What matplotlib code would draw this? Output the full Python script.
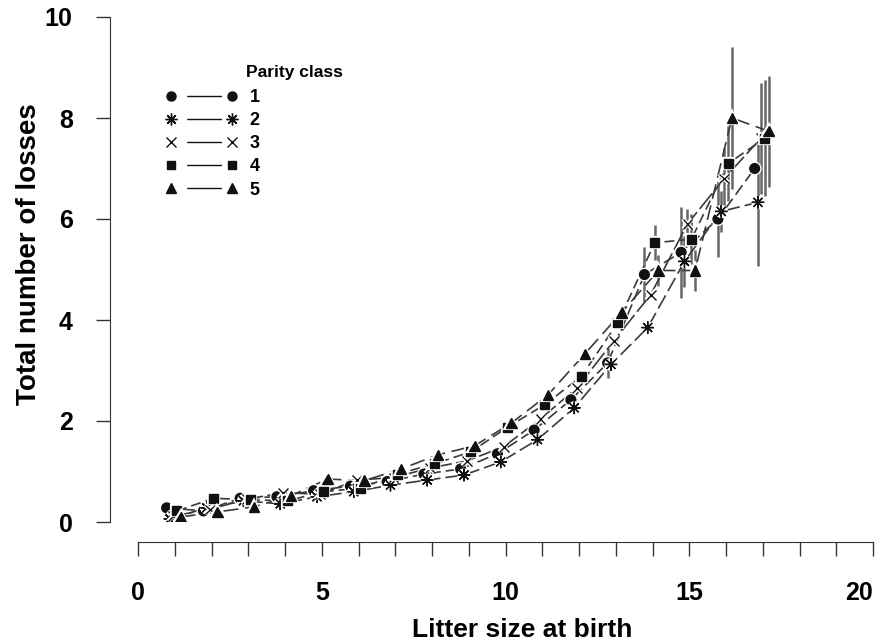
import numpy as np
import matplotlib
matplotlib.use("Agg")
import matplotlib.pyplot as plt
from matplotlib.lines import Line2D
import matplotlib.patheffects as pe

plt.rcParams['font.family'] = ['Liberation Sans', 'DejaVu Sans']

# litter size at birth and mean total losses per parity class
litter = np.arange(1, 18)
parity_labels = ['1', '2', '3', '4', '5']

losses_p1 = [0.28, 0.22, 0.47, 0.50, 0.62, 0.71, 0.80, 0.95, 1.05, 1.35, 1.82, 2.42, 3.15, 4.90, 5.34, 6.00, 7.00]
losses_p2 = [0.06, 0.28, 0.42, 0.36, 0.50, 0.60, 0.73, 0.83, 0.93, 1.19, 1.63, 2.26, 3.12, 3.85, 5.16, 6.15, 6.33]
losses_p3 = [0.12, 0.25, 0.45, 0.58, 0.55, 0.83, 0.88, 1.07, 1.21, 1.49, 2.04, 2.66, 3.59, 4.50, 5.90, 6.80, 7.60]
losses_p4 = [0.22, 0.47, 0.44, 0.42, 0.60, 0.67, 0.95, 1.15, 1.39, 1.88, 2.32, 2.88, 3.95, 5.53, 5.60, 7.10, 7.60]
losses_p5 = [0.10, 0.20, 0.30, 0.52, 0.85, 0.82, 1.05, 1.33, 1.51, 1.96, 2.52, 3.33, 4.15, 4.98, 4.98, 8.00, 7.74]

# standard errors (only the large litters have visible bars)
err_p1 = [0]*12 + [0.30, 0.55, 0.90, 0.75, 0.00]
err_p2 = [0]*12 + [0.00, 0.00, 0.50, 0.40, 1.27]
err_p3 = [0]*12 + [0.00, 0.00, 0.30, 0.60, 1.10]
err_p4 = [0]*12 + [0.00, 0.35, 0.50, 0.75, 1.15]
err_p5 = [0]*12 + [0.00, 0.30, 0.40, 1.40, 1.10]

series = [losses_p1, losses_p2, losses_p3, losses_p4, losses_p5]
errors = [err_p1, err_p2, err_p3, err_p4, err_p5]

# drawing styles
dodge = [-0.22, -0.13, -0.05, 0.06, 0.16]
markers = ['o', (8, 2, 0), 'x', 's', '^']
msizes = [7, 9, 7, 6.5, 7.5]
dashes = [(7, 3), (9, 3), (12, 2.5), (6, 3), (9, 4)]
ink = '#111111'

fig = plt.figure(figsize=(8.76, 6.44), dpi=100)
ax = fig.add_axes([138/876, 1 - 522/644, (873 - 138)/876, (522 - 17)/644])

halo = [pe.withStroke(linewidth=3, foreground='white')]
for k in range(5):
    xs = litter + dodge[k]
    ax.errorbar(xs, series[k], yerr=errors[k], fmt='none', ecolor='#666666',
                elinewidth=1.8, capsize=0, zorder=1)
    ax.plot(xs, series[k], color='#3a3a3a', lw=1.2, dashes=dashes[k], zorder=2)
    ax.plot(xs, series[k], linestyle='none', marker=markers[k], ms=msizes[k],
            color=ink, mec=ink, mew=1.0, zorder=3, path_effects=halo)

ax.set_xlim(0, 20)
ax.set_ylim(0, 10)
for s in ['top', 'right']:
    ax.spines[s].set_visible(False)
ax.spines['left'].set_position(('outward', 20))
ax.spines['bottom'].set_position(('outward', 14.5))
ax.spines['left'].set_color('#333333')
ax.spines['bottom'].set_color('#333333')

ax.set_xticks(np.arange(0, 21))
ax.set_xticklabels([str(v) if v % 5 == 0 else '' for v in range(21)])
ax.set_yticks(np.arange(0, 11, 2))
ax.tick_params(axis='both', direction='out', length=10, width=1, color='#333333')
ax.tick_params(axis='x', pad=18)
ax.tick_params(axis='y', pad=17)
for lab in ax.get_xticklabels():
    lab.set_fontsize(18)
    lab.set_fontweight('bold')
ax.get_xticklabels()[-1].set_horizontalalignment('right')
for lab in ax.get_yticklabels():
    lab.set_fontsize(18)
    lab.set_fontweight('bold')

ax.set_xlabel('Litter size at birth', fontsize=19, fontweight='bold')
ax.xaxis.set_label_coords(0.523, -0.19)
ax.set_ylabel('Total number of losses', fontsize=20, fontweight='bold')
ax.yaxis.set_label_coords(-0.13, 0.53)

# legend handles: short solid stroke with gaps next to both markers
handles = [Line2D([], [], color=ink, marker=markers[k], ms=msizes[k] - 0.5,
                  mew=1.0, lw=1.0, linestyle=(53.7, (25, 40)))
           for k in range(5)]
ax.legend(handles, parity_labels, loc='upper left', frameon=False, numpoints=2,
          bbox_to_anchor=(166/876, 1 - 89/644), bbox_transform=fig.transFigure,
          borderpad=0, borderaxespad=0, handlelength=3.93, handletextpad=0.7,
          labelspacing=0.34, prop={'size': 13, 'weight': 'bold'})
fig.text(246/876, 1 - 72/644, 'Parity class', fontsize=12.5, fontweight='bold',
         ha='left', va='center')

fig.savefig('out.png', dpi=100)
